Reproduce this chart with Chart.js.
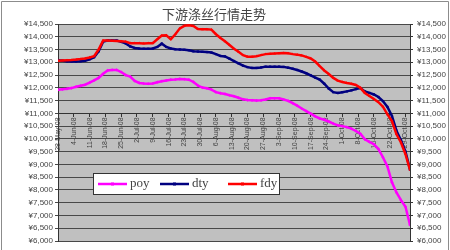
<!DOCTYPE html>
<html>
<head>
<meta charset="utf-8">
<script src="https://cdn.jsdelivr.net/npm/chart.js@4.4.1/dist/chart.umd.min.js"></script>
<style>
  html, body { margin: 0; padding: 0; background: #fff; }
  #wrap { width: 450px; height: 250px; }
</style>
</head>
<body>
<div id="wrap"><canvas id="c" width="450" height="250"></canvas></div>
<script>
const titleText = '下游涤丝行情走势';

const weekLabels = [
  '28-May-08', '4-Jun-08', '11-Jun-08', '18-Jun-08', '25-Jun-08', '2-Jul-08',
  '9-Jul-08', '16-Jul-08', '23-Jul-08', '30-Jul-08', '6-Aug-08', '13-Aug-08',
  '20-Aug-08', '27-Aug-08', '3-Sep-08', '10-Sep-08', '17-Sep-08', '24-Sep-08',
  '1-Oct-08', '8-Oct-08', '15-Oct-08', '22-Oct-08', '29-Oct-08'
];
const weekDays = [0, 7, 14, 21, 28, 35, 42, 49, 56, 63, 70, 77, 84, 91, 98, 105, 112, 119, 126, 133, 140, 147, 154];

// day offsets of the samples (from 28-May-08)
const days = [
  0, 2, 4, 6, 8, 10, 12, 14, 16, 18,
  20, 22, 24, 26, 28, 30, 32, 34, 36, 38,
  40, 42, 44, 46, 48, 50, 52, 54, 56, 58,
  60, 62, 64, 66, 68, 70, 72, 74, 76, 78,
  80, 82, 84, 86, 88, 90, 92, 94, 96, 98,
  100, 102, 104, 106, 108, 110, 112, 114, 116, 118,
  120, 122, 124, 126, 128, 130, 132, 134, 136, 138,
  140, 142, 144, 146, 148, 150, 152, 154, 156
];

const poy = [
  11920, 11940, 11960, 11990, 12040, 12080, 12120, 12200, 12290, 12390,
  12550, 12680, 12700, 12700, 12620, 12500, 12440, 12270, 12190, 12170,
  12160, 12170, 12220, 12260, 12290, 12320, 12330, 12350, 12340, 12320,
  12230, 12090, 12010, 11980, 11930, 11830, 11790, 11760, 11710, 11670,
  11610, 11550, 11520, 11510, 11500, 11510, 11540, 11590, 11590, 11590,
  11540, 11490, 11400, 11300, 11190, 11090, 10990, 10880, 10800, 10750,
  10680, 10600, 10530, 10500, 10460, 10400, 10310, 10200, 9980, 9880,
  9790, 9600, 9280, 8920, 8300, 7900, 7600, 7340, 6630
];

const dty = [
  13080, 13060, 13040, 13030, 13030, 13040, 13060, 13120, 13200, 13430,
  13810, 13850, 13850, 13850, 13800, 13740, 13620, 13560, 13540, 13530,
  13530, 13540, 13600, 13730, 13600, 13540, 13510, 13500, 13490, 13470,
  13430, 13420, 13410, 13400, 13380, 13320, 13250, 13230, 13140, 13050,
  12960, 12870, 12810, 12780, 12780, 12800, 12830, 12830, 12830, 12830,
  12820, 12790, 12750, 12700, 12640, 12570, 12490, 12400, 12320, 12160,
  11970, 11830, 11800, 11830, 11860, 11900, 11950, 11990, 11860, 11800,
  11740, 11640, 11480, 11250, 10900, 10320, 9950, 9500, 8800
];

const fdy = [
  13060, 13070, 13080, 13090, 13105, 13125, 13150, 13190, 13240, 13500,
  13850, 13850, 13840, 13830, 13820, 13810, 13750, 13750, 13750, 13740,
  13750, 13750, 13900, 14050, 14060, 13900, 14100, 14330, 14430, 14450,
  14420, 14300, 14290, 14290, 14280, 14100, 13950, 13820, 13680, 13530,
  13410, 13280, 13220, 13220, 13240, 13280, 13320, 13330, 13340, 13350,
  13360, 13350, 13320, 13300, 13270, 13210, 13150, 13030, 12850, 12680,
  12540, 12390, 12280, 12230, 12190, 12160, 12110, 12000, 11800, 11680,
  11560, 11440, 11260, 10960, 10700, 10180, 9860, 9400, 8780
];

const seriesNames = ['poy', 'dty', 'fdy'];
const seriesColors = ['#ff00ff', '#000080', '#ff0000'];
const seriesMarkers = ['rectRot', 'rect', 'triangle'];

function toPoints(values) {
  return values.map((v, i) => ({ x: days[i], y: v }));
}

function yen(v) {
  return '¥' + Number(v).toLocaleString('en-US');
}

const framePlugin = {
  id: 'frame',
  beforeDraw(chart) {
    const { ctx, chartArea: a } = chart;
    ctx.save();
    ctx.fillStyle = '#ffffff';
    ctx.fillRect(0, 0, chart.width, chart.height);
    ctx.fillStyle = '#c0c0c0';
    ctx.fillRect(a.left, a.top, a.right - a.left, a.bottom - a.top);

    ctx.strokeStyle = '#8c8c8c';
    ctx.lineWidth = 1;
    ctx.beginPath();
    ctx.moveTo(1.5, chart.height);
    ctx.lineTo(1.5, 1.5);
    ctx.lineTo(chart.width - 1.5, 1.5);
    ctx.lineTo(chart.width - 1.5, chart.height);
    ctx.stroke();

    ctx.fillStyle = '#444';
    ctx.font = '13px "Noto Sans CJK SC"';
    ctx.textAlign = 'center';
    ctx.textBaseline = 'middle';
    ctx.fillText(titleText, 214, 14);
    ctx.restore();
  },
  afterDraw(chart) {
    // legend box sitting inside the plot, like the original
    const { ctx, chartArea: a } = chart;
    const bx = a.left + 35, by = a.top + 149, bw = 186, bh = 21;
    ctx.save();
    ctx.fillStyle = '#ffffff';
    ctx.fillRect(bx, by, bw, bh);
    ctx.strokeStyle = '#333';
    ctx.lineWidth = 1;
    ctx.strokeRect(bx + 0.5, by + 0.5, bw, bh);

    const offsets = [5, 67, 135];
    const cy = by + bh / 2 + 0.5;
    ctx.font = '13px "Liberation Serif"';
    ctx.textBaseline = 'middle';
    ctx.textAlign = 'left';
    chart.data.datasets.forEach((ds, i) => {
      const x0 = bx + offsets[i];
      ctx.strokeStyle = ds.borderColor;
      ctx.lineWidth = 2.5;
      ctx.beginPath();
      ctx.moveTo(x0, cy);
      ctx.lineTo(x0 + 29, cy);
      ctx.stroke();
      ctx.fillStyle = ds.borderColor;
      ctx.fillRect(x0 + 13, cy - 1.5, 3, 3);
      ctx.fillStyle = '#444';
      ctx.fillText(ds.label, x0 + 32, cy);
    });
    ctx.restore();
  }
};

const datasets = [poy, dty, fdy].map((vals, i) => ({
  label: seriesNames[i],
  data: toPoints(vals),
  borderColor: seriesColors[i],
  backgroundColor: seriesColors[i],
  borderWidth: 2.5,
  pointStyle: seriesMarkers[i],
  pointRadius: 1.6,
  pointBorderWidth: 0,
  tension: 0,
  order: 3 - i
}));

new Chart(document.getElementById('c'), {
  type: 'line',
  data: { datasets },
  plugins: [framePlugin],
  options: {
    responsive: false,
    animation: false,
    events: [],
    layout: { padding: { top: 24, bottom: 9, left: 0, right: 0 } },
    plugins: {
      legend: { display: false },
      title: { display: false },
      tooltip: { enabled: false }
    },
    scales: {
      x: {
        type: 'linear',
        position: { y: 11000 },
        min: 0,
        max: 156,
        afterBuildTicks: (scale) => {
          scale.ticks = weekDays.map(d => ({ value: d }));
        },
        ticks: {
          autoSkip: false,
          minRotation: 90,
          maxRotation: 90,
          padding: 1,
          color: '#444',
          font: { family: 'Liberation Sans', size: 7 },
          callback: (v) => weekLabels[weekDays.indexOf(v)]
        },
        grid: { drawOnChartArea: false, tickLength: 3, color: '#333' },
        border: { display: true, color: '#333', width: 1 }
      },
      y: {
        position: 'left',
        min: 6000,
        max: 14500,
        afterFit: (scale) => { scale.width = 58; },
        ticks: {
          stepSize: 500,
          padding: 2,
          color: '#444',
          font: { family: 'Liberation Sans', size: 8 },
          callback: yen
        },
        grid: { color: '#484848', lineWidth: 1, tickLength: 3 },
        border: { display: true, color: '#333', width: 1 }
      },
      y2: {
        position: 'right',
        min: 6000,
        max: 14500,
        afterFit: (scale) => { scale.width = 40; },
        ticks: {
          stepSize: 500,
          padding: 4,
          color: '#444',
          font: { family: 'Liberation Sans', size: 8 },
          callback: yen
        },
        grid: { drawOnChartArea: false, color: '#333', tickLength: 3 },
        border: { display: true, color: '#333', width: 1 }
      }
    }
  }
});
</script>
</body>
</html>
